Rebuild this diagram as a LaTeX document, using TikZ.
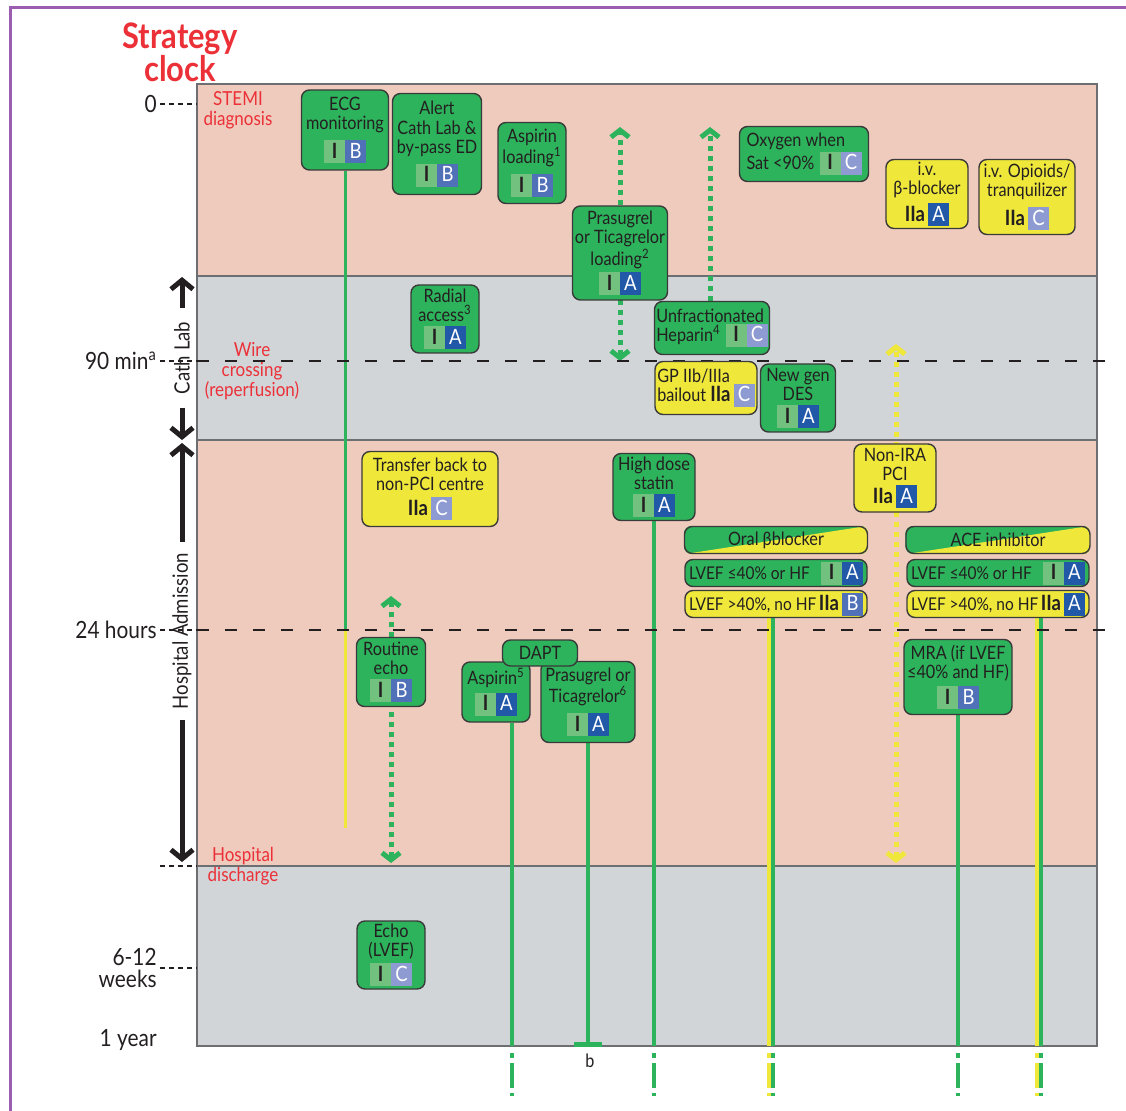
\documentclass[tikz,border=0pt]{standalone}
\usepackage{fontspec}
\setmainfont{Lato}[FakeStretch=0.88]
\usetikzlibrary{arrows.meta}

\definecolor{cGreen}{HTML}{2DB35C}
\definecolor{cYellow}{HTML}{EFE83B}
\definecolor{cPink}{HTML}{EFCBBD}
\definecolor{cGrey}{HTML}{D2D5D8}
\definecolor{cI}{HTML}{72C17E}
\definecolor{cA}{HTML}{2158A8}
\definecolor{cB}{HTML}{5070B8}
\definecolor{cC}{HTML}{8E9BD2}
\definecolor{cRed}{HTML}{EC3038}
\definecolor{cPurple}{HTML}{9B5DB0}
\definecolor{cEdge}{HTML}{3A3A3A}
\definecolor{cText}{HTML}{231F20}
\definecolor{cFrame}{HTML}{6D6E71}

\newdimen\upx \upx=0.02cm
\newcommand{\bxfont}{\fontsize{10.5}{11}\selectfont}
\newcommand{\chipfont}{\fontsize{12}{12}\selectfont}
\newcommand{\chip}[3]{{\fboxsep=0pt\colorbox{#1}{\makebox[21\upx]{\rule[-5\upx]{0pt}{23\upx}\chipfont\color{#2}#3}}}}
\newcommand{\gI}{\chip{cI}{cText}{\bfseries I}}
\newcommand{\gIIa}{{\chipfont\bfseries IIa}\,}
\newcommand{\evA}{\chip{cA}{white}{A}}
\newcommand{\evB}{\chip{cB}{white}{B}}
\newcommand{\evC}{\chip{cC}{white}{C}}
\newcommand{\lvrow}[2]{\hbox to 174\upx{{\fontsize{10}{11}\selectfont #1}\hfill#2}}

\pgfdeclarelayer{bg}
\pgfsetlayers{bg,main}

\tikzset{
  box/.style={draw=cEdge, line width=1.4\upx, rounded corners=8\upx, align=center,
    inner sep=1pt, text=cText, font=\bxfont},
  gbox/.style={box, fill=cGreen},
  ybox/.style={box, fill=cYellow},
  sbox/.style={box},
  lvef/.style={minimum height=27\upx, inner xsep=4\upx},
  redlbl/.style={text=cRed, font=\fontsize{11}{11.2}\selectfont, align=center, inner sep=0pt},
  tlbl/.style={text=cText, font=\fontsize{13.5}{13}\selectfont, anchor=east, inner sep=0pt, align=right},
  sidelbl/.style={text=cText, font=\fontsize{12}{12}\selectfont, rotate=90, inner ysep=0pt},
  title/.style={text=cRed, font=\fontsize{20}{24}\selectfont\bfseries, align=center},
  tick/.style={cText, line width=1.2\upx, dash pattern=on 5\upx off 4\upx},
  longdash/.style={cText, line width=1.2\upx, dash pattern=on 12\upx off 16\upx},
  gline/.style={cGreen, line width=4\upx},
  yline/.style={cYellow, line width=4\upx},
  gdots/.style={cGreen, line width=5\upx, dash pattern=on 5\upx off 5\upx},
  ydots/.style={cYellow, line width=5\upx, dash pattern=on 5\upx off 5\upx},
  gtail/.style={gline, dash pattern=on 5\upx off 5\upx on 25\upx off 5\upx on 3\upx off 40\upx},
  ytail/.style={yline, dash pattern=on 5\upx off 5\upx on 25\upx off 5\upx on 3\upx off 40\upx},
  chev/.tip={Straight Barb[length=0.14cm, width=0.36cm]},
  blk/.tip={Straight Barb[length=0.18cm, width=0.44cm]},
  tbar/.tip={Bar[width=0.56cm, line width=0.1cm]},
  blkarrow/.style={cText, line width=5\upx, -blk}
}

\begin{document}
\begin{tikzpicture}[x=0.02cm, y=-0.02cm]
\useasboundingbox (0,0) rectangle (1126,1111);

% frame and bands
\draw[cPurple, line width=3\upx] (10,1111) -- (10,8) -- (1126,8);
\begin{pgfonlayer}{bg}
  \fill[cPink] (197,84) rectangle (1097,276);
  \fill[cGrey] (197,276) rectangle (1097,440);
  \fill[cPink] (197,440) rectangle (1097,866);
  \fill[cGrey] (197,866) rectangle (1097,1046);
  \foreach \y in {276,440,866}
    \draw[cFrame, line width=1.5\upx] (197,\y) -- (1097,\y);
  \draw[cFrame, line width=1.5\upx] (197,84) rectangle (1097,1046);
\end{pgfonlayer}

\coordinate (pl) at (197,0);
\coordinate (pr) at (1110,0);

% title and time scale
\node[title] (title) at (180,52) {Strategy\\[-5pt]clock};
\node[tlbl] (t0) at (157,104) {0};
\node[tlbl] (t90) at (157,361) {90 min\textsuperscript{a}};
\node[tlbl] (t24) at (157,630) {24 hours};
\node[tlbl] (t612) at (157,968) {6-12\\weeks};
\node[tlbl] (t1y) at (157,1040) {1 year};
\coordinate (tdis) at (160,866);

\draw[tick] ([xshift=3\upx]t0.east) -- (t0.east -| pl);
\draw[tick] ([xshift=3\upx]t90.east) -- (t90.east -| pl);
\draw[longdash] (t90.east -| pl) -- (t90.east -| pr);
\draw[tick] ([xshift=3\upx]t24.east) -- (t24.east -| pl);
\draw[longdash] (t24.east -| pl) -- (t24.east -| pr);
\draw[tick] (tdis) -- (tdis -| pl);
\draw[tick] ([xshift=3\upx]t612.east) -- (t612.east -| pl);

\node[redlbl] (stemi) at (238,110) {STEMI\\diagnosis};
\node[redlbl] (wire) at (252,371) {Wire\\crossing\\(reperfusion)};
\node[redlbl] (disch) at (243,866) {Hospital\\discharge};

% phases
\node[sidelbl, inner xsep=13\upx] (cath) at (182,358) {Cath Lab};
\coordinate (cathtop) at (182,277);
\coordinate (cathbot) at (182,440);
\draw[blkarrow] (cath.east) -- (cathtop);
\draw[blkarrow] (cath.west) -- (cathbot);
\node[sidelbl, inner xsep=11\upx] (hosp) at (182,631) {Hospital Admission};
\coordinate (hosptop) at (182,443);
\coordinate (hospbot) at (182,862);
\draw[blkarrow] (hosp.east) -- (hosptop);
\draw[blkarrow] (hosp.west) -- (hospbot);

% boxes
\node[gbox, minimum width=87\upx, minimum height=80\upx] (ecg) at (345,130) {ECG\\monitoring\\[3pt]\gI\evB};
\node[gbox, minimum width=89\upx, minimum height=101\upx] (alert) at (437,144) {Alert\\Cath Lab \&\\by-pass ED\\[3pt]\gI\evB};
\node[gbox, minimum width=68\upx, minimum height=81\upx] (asp1) at (532,163) {Aspirin\\loading\textsuperscript{1}\\[3pt]\gI\evB};
\node[gbox, minimum width=95\upx, minimum height=94\upx] (pra2) at (620,253) {Prasugrel\\or Ticagrelor\\loading\textsuperscript{2}\\[1pt]\gI\evA};
\node[gbox, align=left, minimum width=129\upx, minimum height=55\upx] (oxy) at (804,154) {Oxygen when\\Sat <90\%\;\gI\evC};
\node[ybox, minimum width=82\upx, minimum height=69\upx] (ivbb) at (927,194) {i.v.\\β-blocker\\[2pt]\gIIa\evA};
\node[ybox, minimum width=96\upx, minimum height=75\upx] (opi) at (1027,197) {i.v. Opioids/\\tranquilizer\\[3pt]\gIIa\evC};
\node[gbox, minimum width=68\upx, minimum height=68\upx] (rad) at (445,319) {Radial\\access\textsuperscript{3}\\[2pt]\gI\evA};
\node[gbox, align=left, minimum width=115\upx, minimum height=53\upx] (hep) at (712,328) {Unfractionated\\Heparin\textsuperscript{4}\;\gI\evC};
\node[ybox, align=left, minimum width=102\upx, minimum height=53\upx] (gp) at (706,388) {GP IIb/IIIa\\bailout \gIIa\evC};
\node[gbox, minimum width=75\upx, minimum height=68\upx] (des) at (798,398) {New gen\\DES\\[2pt]\gI\evA};
\node[ybox, minimum width=136\upx, minimum height=75\upx] (trans) at (430,489) {Transfer back to\\non-PCI centre\\[3pt]\gIIa\evC};
\node[gbox, minimum width=82\upx, minimum height=67\upx] (stat) at (654,487) {High dose\\statin\\[2pt]\gI\evA};
\node[ybox, minimum width=82\upx, minimum height=68\upx] (nira) at (895,478) {Non-IRA\\PCI\\[2pt]\gIIa\evA};
\node[sbox, minimum width=183\upx, minimum height=27\upx] (bbh) at (776,540) {Oral βblocker};
\node[gbox, lvef] (bblo) at (776,573) {\lvrow{LVEF ≤40\% or HF}{\gI\evA}};
\node[ybox, lvef] (bbhi) at (776,604) {\lvrow{LVEF >40\%, no HF}{\gIIa\evB}};
\node[sbox, minimum width=184\upx, minimum height=27\upx] (aceh) at (998,540) {ACE inhibitor};
\node[gbox, lvef] (acelo) at (998,573) {\lvrow{LVEF ≤40\% or HF}{\gI\evA}};
\node[ybox, lvef] (acehi) at (998,604) {\lvrow{LVEF >40\%, no HF}{\gIIa\evA}};
\node[gbox, minimum width=69\upx, minimum height=69\upx] (recho) at (391,672) {Routine\\echo\\[2pt]\gI\evB};
\node[gbox, minimum width=68\upx, minimum height=60\upx] (asp5) at (496,692) {Aspirin\textsuperscript{5}\\[2pt]\gI\evA};
\node[gbox, minimum width=94\upx, minimum height=81\upx] (pra6) at (588,702) {Prasugrel or\\Ticagrelor\textsuperscript{6}\\[3pt]\gI\evA};
\node[gbox, minimum width=75\upx, minimum height=26\upx] (dapt) at (540,653) {DAPT};
\node[gbox, minimum width=108\upx, minimum height=75\upx] (mra) at (958,677) {MRA (if LVEF\\≤40\% and HF)\\[2pt]\gI\evB};
\node[gbox, minimum width=68\upx, minimum height=68\upx] (echo) at (391,955) {Echo\\(LVEF)\\[1pt]\gI\evC};
\node[text=cText, font=\bxfont] (lblb) at (590,1061) {b};

% durations
\coordinate (ecg24) at (345,630);
\coordinate (ecgend) at (345,828);
\coordinate (prtop) at (620,127);
\coordinate (prbot) at (620,361);
\coordinate (hptop) at (710,127);
\coordinate (ectop) at (391,596);
\coordinate (ecbot) at (391,863);
\coordinate (nrtop) at (896,344);
\coordinate (nrbot) at (896,863);
\coordinate (a5end) at (512,1046);
\coordinate (p6end) at (588,1047);
\coordinate (stend) at (654,1046);
\coordinate (bbyend) at (769,1046);
\coordinate (bbgend) at (773,1046);
\coordinate (mrend) at (958,1046);
\coordinate (acyend) at (1037,1046);
\coordinate (acgend) at (1041,1046);

\begin{pgfonlayer}{bg}
  % split fill of the two headers
  \foreach \n in {bbh,aceh} {
    \begin{scope}
      \clip[rounded corners=8\upx] (\n.south west) rectangle (\n.north east);
      \fill[cGreen] (\n.south west) rectangle (\n.north east);
      \fill[cYellow] (\n.south west) -- (\n.north east) -- (\n.south east) -- cycle;
    \end{scope}
  }
  \draw[gline, line width=3\upx] (ecg.south) -- (ecg24);
  \draw[yline, line width=3\upx] (ecg24) -- (ecgend);
  \draw[gdots, chev-chev] (prbot) -- (prtop);
  \draw[gdots, -chev] (hptop |- hep.north) -- (hptop);
  \draw[gdots, chev-chev] (ecbot) -- (ectop);
  \draw[ydots, chev-chev] (nrbot) -- (nrtop);
  \draw[gline] (a5end |- asp5.south) -- (a5end);
  \draw[gline, -tbar] (pra6.south) -- (p6end);
  \draw[gline] (stat.south) -- (stend);
  \draw[yline] (bbyend |- bbhi.south) -- (bbyend);
  \draw[gline] (bbgend |- bbhi.south) -- (bbgend);
  \draw[gline] (mra.south) -- (mrend);
  \draw[yline] (acyend |- acehi.south) -- (acyend);
  \draw[gline] (acgend |- acehi.south) -- (acgend);
  \foreach \x in {512,654,773,958,1041}
    \draw[gtail] (\x,1053) -- (\x,1096);
  \foreach \x in {769,1037}
    \draw[ytail] (\x,1053) -- (\x,1096);
\end{pgfonlayer}

\end{tikzpicture}
\end{document}
